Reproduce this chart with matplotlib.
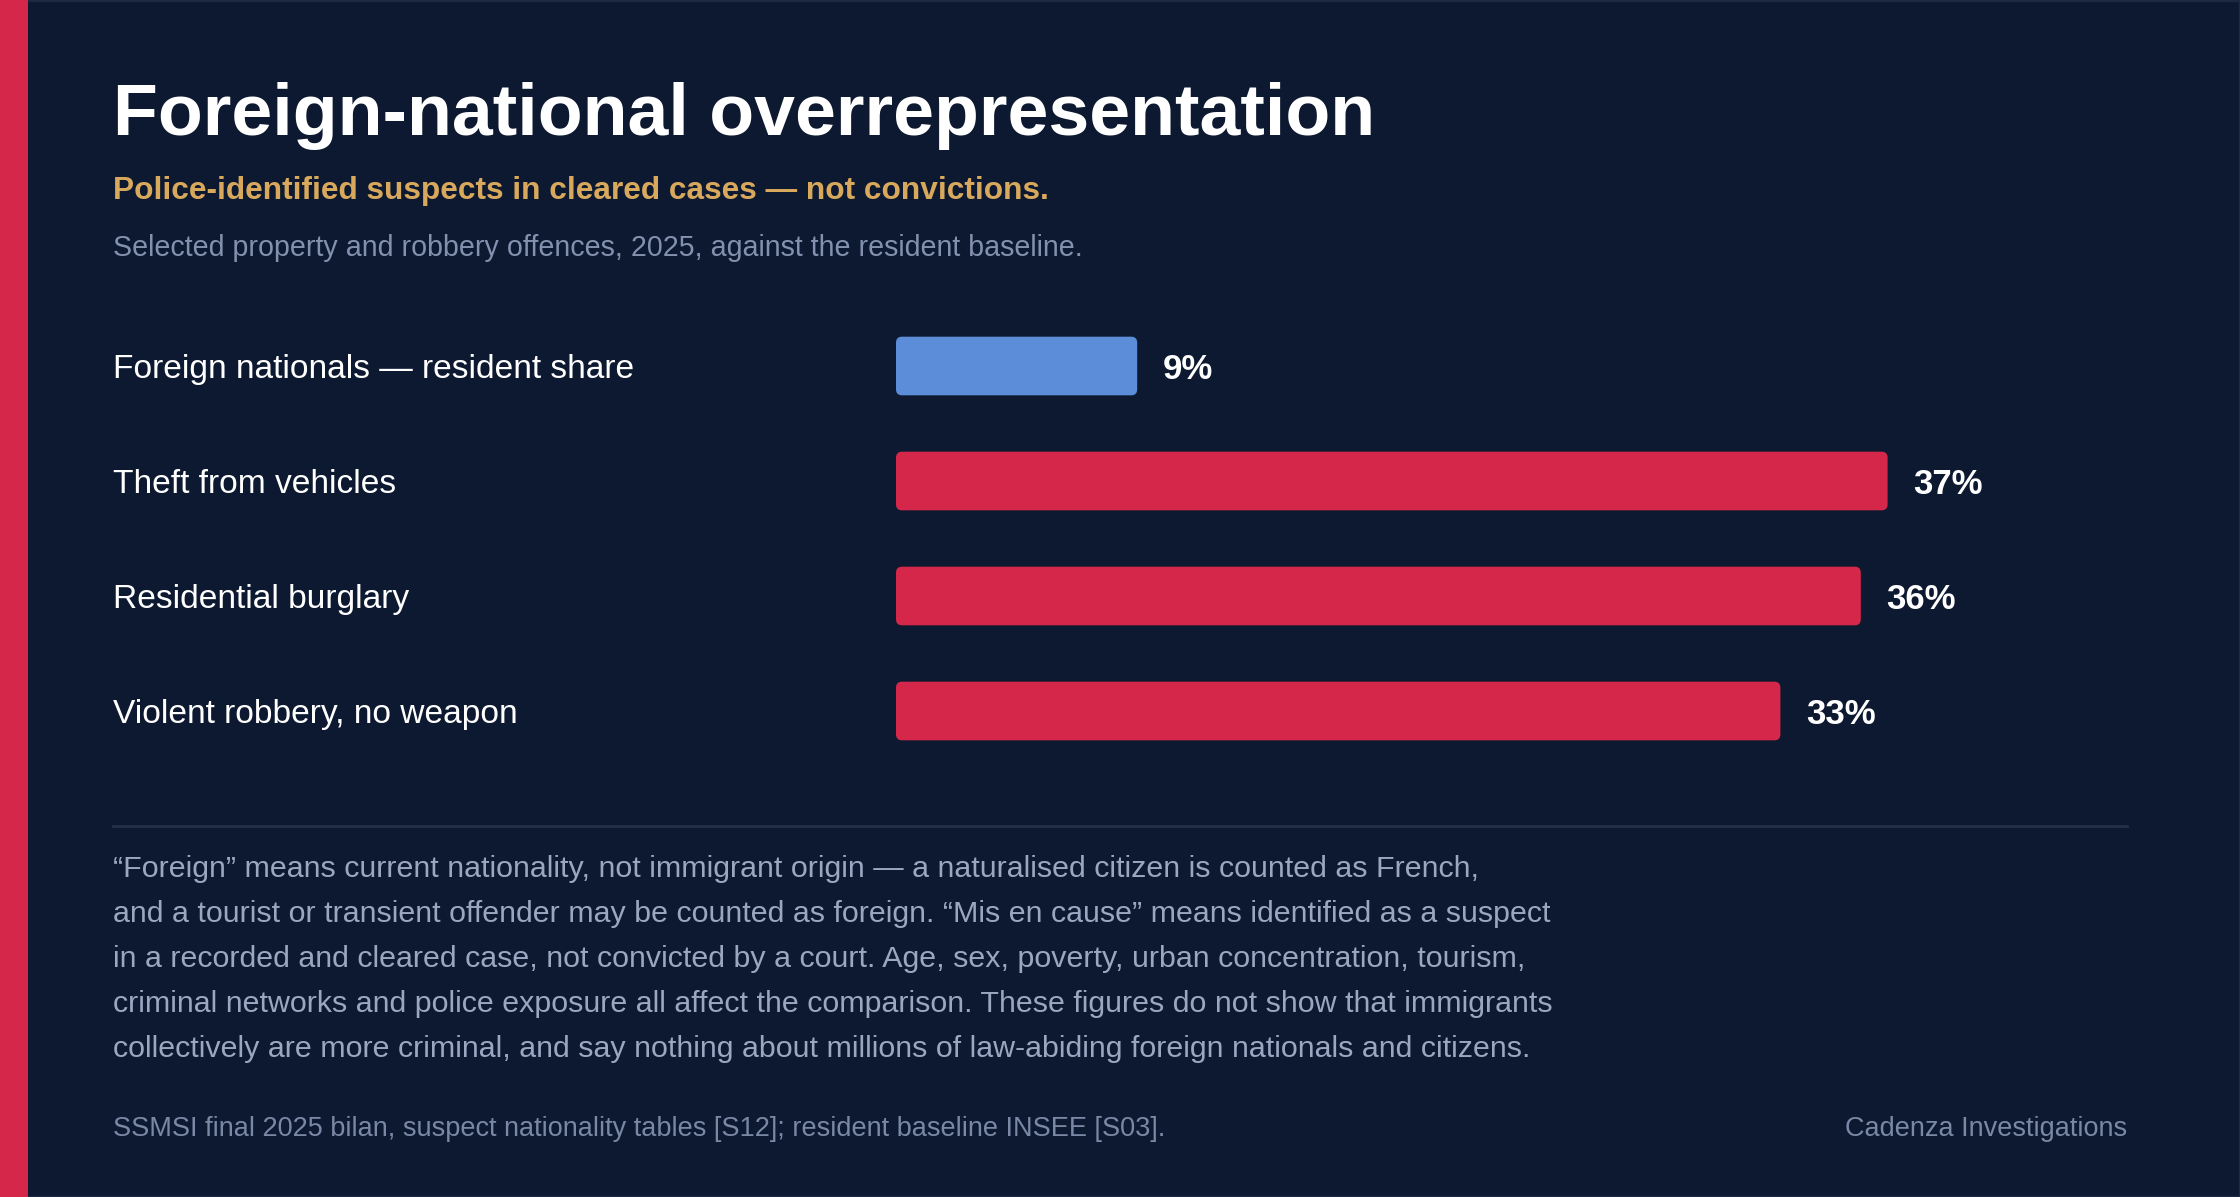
import matplotlib
matplotlib.use("Agg")
import matplotlib.pyplot as plt
from matplotlib.patches import FancyBboxPatch, Rectangle
from matplotlib.transforms import blended_transform_factory

# ── Data ─────────────────────────────────────────────────────────────────── #
categories = [
    "Foreign nationals — resident share",
    "Theft from vehicles",
    "Residential burglary",
    "Violent robbery, no weapon",
]
shares = [9, 37, 36, 33]
is_baseline = [True, False, False, False]

title = "Foreign-national overrepresentation"
subtitle = "Police-identified suspects in cleared cases — not convictions."
description = "Selected property and robbery offences, 2025, against the resident baseline."
footnote_lines = [
    "\u201cForeign\u201d means current nationality, not immigrant origin — a naturalised citizen is counted as French,",
    "and a tourist or transient offender may be counted as foreign. \u201cMis en cause\u201d means identified as a suspect",
    "in a recorded and cleared case, not convicted by a court. Age, sex, poverty, urban concentration, tourism,",
    "criminal networks and police exposure all affect the comparison. These figures do not show that immigrants",
    "collectively are more criminal, and say nothing about millions of law-abiding foreign nationals and citizens.",
]
source = "SSMSI final 2025 bilan, suspect nationality tables [S12]; resident baseline INSEE [S03]."
credit = "Cadenza Investigations"

# ── Style ────────────────────────────────────────────────────────────────── #
BG = "#0d1930"
RED = "#d4274a"
BLUE = "#5b8dd9"
GOLD = "#d8a95c"
GREY = "#8391ae"
NOTE = "#9ba7c0"
RULE = "#24304a"

plt.rcParams["font.family"] = ["Liberation Sans", "DejaVu Sans"]

W, H = 2240, 1197
fig = plt.figure(figsize=(W / 100, H / 100), dpi=100, facecolor=BG)


def fy(px):
    return 1 - px / H


def fx(px):
    return px / W


# frame and accent strip
fig.patches.append(Rectangle((0, 0), 1, 1, transform=fig.transFigure,
                             facecolor="none", edgecolor="#1d2942", linewidth=2.5))
fig.patches.append(Rectangle((0, 0), fx(28), 1, transform=fig.transFigure,
                             facecolor=RED, edgecolor="none"))

# ── Header ───────────────────────────────────────────────────────────────── #
fig.text(fx(113), fy(135), title, color="white", fontsize=52.9,
         fontweight="bold", va="baseline")
fig.text(fx(113), fy(199), subtitle, color=GOLD, fontsize=22.8,
         fontweight="bold", va="baseline")
fig.text(fx(113), fy(256), description, color=GREY, fontsize=20.6, va="baseline")

# ── Bars ─────────────────────────────────────────────────────────────────── #
ax = fig.add_axes([fx(896), fy(768.5), fx(1072), 460 / H])
ax.set_facecolor("none")
ax.set_xlim(0, 40)
ax.set_ylim(len(categories) - 0.5, -0.5)
ax.axis("off")

colors = [BLUE if b else RED for b in is_baseline]
bars = ax.barh(range(len(categories)), shares, height=0.51, color=colors)

# swap plain rectangles for rounded ones (6 px corners)
px_x = 1072 / 40
px_y = 460 / len(categories)
for rect, c in zip(bars.patches, colors):
    rect.set_visible(False)
    ax.add_patch(FancyBboxPatch(
        (rect.get_x(), rect.get_y()), rect.get_width(), rect.get_height(),
        boxstyle=f"round,pad=0,rounding_size={6 / px_x}",
        mutation_aspect=px_x / px_y, facecolor=c, edgecolor="none"))

for i, v in enumerate(shares):
    ax.annotate(f"{v}%", (v, i), xytext=(18.5, 0), textcoords="offset points",
                color="white", fontsize=25, fontweight="bold",
                va="center_baseline", ha="left")

lab_tr = blended_transform_factory(fig.transFigure, ax.transData)
for i, name in enumerate(categories):
    ax.text(fx(113), i, name, transform=lab_tr, color="white", fontsize=24.1,
            va="center_baseline", ha="left")

# ── Notes ────────────────────────────────────────────────────────────────── #
fig.add_artist(plt.Line2D([fx(113), fx(2127)], [fy(826), fy(826)],
                          color=RULE, linewidth=2))
for k, line in enumerate(footnote_lines):
    fig.text(fx(113), fy(877 + 45 * k), line, color=NOTE, fontsize=21.9,
             va="baseline")

fig.text(fx(113), fy(1136), source, color="#7b88a5", fontsize=19.5, va="baseline")
fig.text(fx(2127), fy(1136), credit, color="#7b88a5", fontsize=19.5,
         va="baseline", ha="right")

fig.savefig("out.png", dpi=100, facecolor=BG)
